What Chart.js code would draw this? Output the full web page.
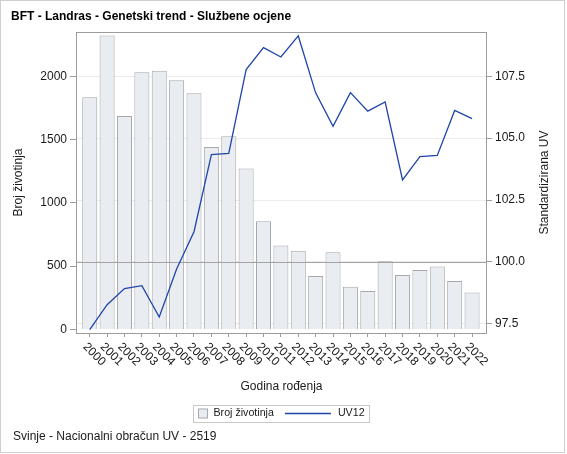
<!DOCTYPE html>
<html>
<head>
<meta charset="utf-8">
<script src="https://cdn.jsdelivr.net/npm/chart.js@4"></script>
<style>
  html, body { margin: 0; padding: 0; background: #fff; }
  #wrap { width: 567px; height: 454px; position: relative; }
</style>
</head>
<body>
<div id="wrap"><canvas id="chart"></canvas></div>
<script>
const years = ['2000', '2001', '2002', '2003', '2004', '2005', '2006', '2007', '2008', '2009', '2010',
    '2011', '2012', '2013', '2014', '2015', '2016', '2017', '2018', '2019', '2020', '2021', '2022'];
const brojZivotinja = [1836, 2325, 1688, 2033, 2046, 1970, 1867, 1443, 1528, 1272, 856,
    664, 623, 422, 611, 337, 303, 540, 430, 469, 498, 382, 292];
const uv12 = [97.26, 98.27, 98.92, 99.04, 97.77, 99.71, 101.22, 104.33, 104.38, 107.77, 108.66,
    108.28, 109.13, 106.83, 105.48, 106.84, 106.09, 106.46, 103.31, 104.25, 104.30, 106.12, 105.79];
const countTicks = [0, 500, 1000, 1500, 2000];
const uvTicks = [97.5, 100, 102.5, 105, 107.5];
const referenceValue = 100;

const FONT = "'Liberation Sans', Arial, sans-serif";
const barFill = '#e9ecf1';
const barBorder = '#a6a8ab';
const lineColor = '#1f45aa';

Chart.defaults.font.family = FONT;

// frame, reference line, rotated year labels, axis titles, legend, footnote
const extras = {
    id: 'extras',
    afterDatasetDraw(chart, args) {
        if (args.index !== 0) return;
        const ctx = chart.ctx;
        const area = chart.chartArea;
        const y = Math.round(chart.scales.y1.getPixelForValue(referenceValue)) + 0.5;
        ctx.save();
        ctx.strokeStyle = '#a3a3a3';
        ctx.lineWidth = 1;
        ctx.beginPath();
        ctx.moveTo(area.left, y);
        ctx.lineTo(area.right, y);
        ctx.stroke();
        ctx.restore();
    },
    afterDraw(chart) {
        const ctx = chart.ctx;
        const area = chart.chartArea;
        const xScale = chart.scales.x;
        ctx.save();

        // outer border
        ctx.strokeStyle = '#cfcfcf';
        ctx.lineWidth = 1;
        ctx.strokeRect(0.5, 0.5, 564, 452);

        // plot frame
        ctx.strokeStyle = '#9c9c9c';
        ctx.strokeRect(Math.round(area.left) + 0.5, Math.round(area.top) + 0.5,
            Math.round(area.right - area.left) - 1, Math.round(area.bottom - area.top));

        // year labels, rotated clockwise
        ctx.fillStyle = '#1a1a1a';
        ctx.font = '12px ' + FONT;
        ctx.textAlign = 'left';
        ctx.textBaseline = 'middle';
        years.forEach((year, i) => {
            const x = xScale.getPixelForValue(i);
            ctx.save();
            ctx.translate(x - 5, area.bottom + 12);
            ctx.rotate(Math.PI / 4);
            ctx.fillText(year, 0, 0);
            ctx.restore();
        });

        // axis titles
        const midY = (area.top + area.bottom) / 2;
        ctx.textAlign = 'center';
        ctx.fillText('Godina rođenja', (area.left + area.right) / 2, 386.5);
        ctx.save();
        ctx.translate(18.5, midY);
        ctx.rotate(-Math.PI / 2);
        ctx.fillText('Broj životinja', 0, 0);
        ctx.restore();
        ctx.save();
        ctx.translate(545, midY);
        ctx.rotate(-Math.PI / 2);
        ctx.fillText('Standardizirana UV', 0, 0);
        ctx.restore();

        // legend
        ctx.font = '10.67px ' + FONT;
        const label1 = chart.data.datasets[0].label;
        const label2 = chart.data.datasets[1].label;
        const w1 = ctx.measureText(label1).width;
        const w2 = ctx.measureText(label2).width;
        const boxW = 5 + 9 + 6 + w1 + 11 + 46 + 7 + w2 + 5;
        const bx = Math.round(281 - boxW / 2) + 0.5;
        const by = 405.5;
        const ly = 413.5;
        ctx.strokeStyle = '#c8c8c8';
        ctx.strokeRect(bx, by, Math.round(boxW), 17);
        let cx = bx + 5;
        ctx.fillStyle = barFill;
        ctx.fillRect(cx, ly - 4.5, 9, 9);
        ctx.strokeStyle = barBorder;
        ctx.strokeRect(cx, ly - 4.5, 9, 9);
        cx += 9 + 6;
        ctx.fillStyle = '#1a1a1a';
        ctx.textAlign = 'left';
        ctx.fillText(label1, cx, ly);
        cx += w1 + 11;
        ctx.strokeStyle = lineColor;
        ctx.lineWidth = 1.3;
        ctx.beginPath();
        ctx.moveTo(cx, ly);
        ctx.lineTo(cx + 46, ly);
        ctx.stroke();
        cx += 46 + 7;
        ctx.fillText(label2, cx, ly);

        // footnote
        ctx.font = '12px ' + FONT;
        ctx.fillText('Svinje - Nacionalni obračun UV - 2519', 13, 437);

        ctx.restore();
    }
};

new Chart(document.getElementById('chart'), {
    data: {
        datasets: [{
            type: 'bar',
            label: 'Broj životinja',
            data: brojZivotinja.map((v, i) => ({ x: i, y: v })),
            backgroundColor: barFill,
            borderColor: barBorder,
            borderWidth: 1,
            barPercentage: 0.865,
            categoryPercentage: 1,
            yAxisID: 'y',
            order: 2
        }, {
            type: 'line',
            label: 'UV12',
            data: uv12.map((v, i) => ({ x: i, y: v })),
            borderColor: lineColor,
            borderWidth: 1.3,
            pointRadius: 0,
            fill: false,
            tension: 0,
            yAxisID: 'y1',
            order: 1
        }]
    },
    options: {
        responsive: true,
        maintainAspectRatio: false,
        animation: false,
        layout: {
            padding: { left: 11, right: 0, top: 0, bottom: 61 }
        },
        plugins: {
            legend: { display: false },
            tooltip: { enabled: false },
            title: {
                display: true,
                text: 'BFT - Landras - Genetski trend - Službene ocjene',
                align: 'start',
                color: '#000',
                font: { size: 12, weight: 'bold' },
                padding: { top: 9.5, bottom: 8.1 }
            }
        },
        scales: {
            x: {
                type: 'linear',
                offset: false,
                min: -0.79,
                max: 22.86,
                border: { display: false },
                grid: { offset: false, drawOnChartArea: false, tickLength: 4, color: '#9c9c9c' },
                ticks: { display: false, stepSize: 1, includeBounds: false },
                afterFit(scale) { scale.height = 60; }
            },
            y: {
                position: 'left',
                min: -28.4,
                max: 2352,
                border: { display: false },
                grid: { drawOnChartArea: false, tickLength: 6, color: '#9c9c9c' },
                ticks: {
                    padding: 3,
                    color: '#1a1a1a',
                    font: { size: 12 },
                    callback: v => String(v)
                },
                afterBuildTicks(scale) { scale.ticks = countTicks.map(v => ({ value: v })); },
                afterFit(scale) { scale.width = 65; }
            },
            y1: {
                position: 'right',
                min: 97.125,
                max: 109.29,
                border: { display: false },
                grid: {
                    drawOnChartArea: true,
                    color: '#ececec',
                    tickColor: '#9c9c9c',
                    tickLength: 5
                },
                ticks: {
                    padding: 3,
                    color: '#1a1a1a',
                    font: { size: 12 },
                    callback: v => v.toFixed(1)
                },
                afterBuildTicks(scale) { scale.ticks = uvTicks.map(v => ({ value: v })); },
                afterFit(scale) { scale.width = 80; }
            }
        }
    },
    plugins: [extras]
});
</script>
</body>
</html>
